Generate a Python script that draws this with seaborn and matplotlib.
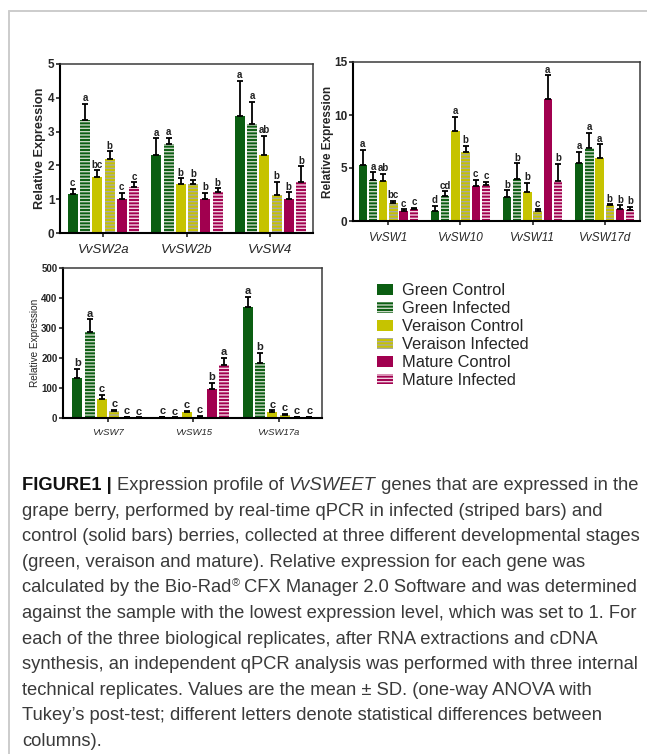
#!/usr/bin/env python3
"""
VvSWEET expression profile - three bar panels, legend and caption
"""
import matplotlib
matplotlib.use("Agg")
import matplotlib.pyplot as plt
from matplotlib.patches import Patch
from matplotlib.lines import Line2D
from matplotlib.container import BarContainer
import seaborn as sns
import pandas as pd

conditions = ["Green Control", "Green Infected", "Veraison Control",
              "Veraison Infected", "Mature Control", "Mature Infected"]
base_colors = ["#0b5e12", "#0b5e12", "#c6c300", "#c6c300", "#a1004f", "#a1004f"]
stripe_colors = [None, "#c9d6c4", None, "#a9a9a0", None, "#f2d3e2"]

# panel A
genes_a = ["VvSW2a", "VvSW2b", "VvSW4"]
mean_a = [[1.15, 3.33, 1.65, 2.20, 1.00, 1.35],
          [2.30, 2.62, 1.45, 1.45, 1.00, 1.20],
          [3.45, 3.22, 2.32, 1.12, 1.00, 1.52]]
sd_a = [[0.15, 0.50, 0.20, 0.22, 0.18, 0.15],
        [0.50, 0.20, 0.17, 0.13, 0.18, 0.12],
        [1.05, 0.65, 0.56, 0.40, 0.20, 0.45]]
letters_a = [["c", "a", "bc", "b", "c", "c"],
             ["a", "a", "b", "b", "b", "b"],
             ["a", "a", "ab", "b", "b", "b"]]

# panel B
genes_b = ["VvSW1", "VvSW10", "VvSW11", "VvSW17d"]
mean_b = [[5.27, 3.85, 3.76, 1.70, 0.95, 1.10],
          [0.95, 2.37, 8.53, 6.54, 3.32, 3.38],
          [2.27, 4.00, 2.75, 0.95, 11.52, 3.76],
          [5.43, 6.92, 5.97, 1.48, 1.14, 1.00]]
sd_b = [[1.43, 0.73, 0.72, 0.20, 0.15, 0.16],
        [0.47, 0.43, 1.32, 0.56, 0.53, 0.32],
        [0.63, 1.43, 0.85, 0.15, 2.22, 1.61],
        [1.11, 1.42, 1.26, 0.10, 0.34, 0.33]]
letters_b = [["a", "a", "ab", "bc", "c", "c"],
             ["d", "cd", "a", "b", "c", "c"],
             ["b", "b", "b", "c", "a", "b"],
             ["a", "a", "a", "b", "b", "b"]]

# panel C
genes_c = ["VvSW7", "VvSW15", "VvSW17a"]
mean_c = [[134, 286, 62, 24, 3, 1],
          [3, 1, 20, 4, 98, 178],
          [369, 184, 20, 11, 3, 2]]
sd_c = [[29, 43, 16, 4, 2, 1],
        [2, 1, 4, 3, 20, 23],
        [36, 34, 6, 2, 2, 1]]
letters_c = [["b", "a", "c", "c", "c", "c"],
             ["c", "c", "c", "c", "b", "a"],
             ["a", "b", "c", "c", "c", "c"]]

caption_lines = [
    [("FIGURE1 | ", "bold"), ("Expression profile of ", "reg"), ("VvSWEET", "it"),
     (" genes that are expressed in the", "reg")],
    [("grape berry, performed by real-time qPCR in infected (striped bars) and", "reg")],
    [("control (solid bars) berries, collected at three different developmental stages", "reg")],
    [("(green, veraison and mature). Relative expression for each gene was", "reg")],
    [("calculated by the Bio-Rad", "reg"), ("®", "sup"),
     (" CFX Manager 2.0 Software and was determined", "reg")],
    [("against the sample with the lowest expression level, which was set to 1. For", "reg")],
    [("each of the three biological replicates, after RNA extractions and cDNA", "reg")],
    [("synthesis, an independent qPCR analysis was performed with three internal", "reg")],
    [("technical replicates. Values are the mean ± SD. (one-way ANOVA with", "reg")],
    [("Tukey\u2019s post-test; different letters denote statistical differences between", "reg")],
    [("columns).", "reg")],
]

sns.set_style("ticks")
plt.rcParams["font.family"] = ["Liberation Sans", "DejaVu Sans"]
plt.rcParams["hatch.linewidth"] = 1.0

cap_font = "Liberation Sans"
cap_size = 13.2

W, H = 647, 754
fig = plt.figure(figsize=(W / 100, H / 100), dpi=100)


def box(left, top, right, bottom):
    return [left / W, 1 - bottom / H, (right - left) / W, (bottom - top) / H]


def draw_panel(ax, genes, means, sds, letters, ylim, yticks, width, gap,
               tick_fs, label_fs, label_bold, xtick_fs, letter_fs, xpad):
    rows = []
    for g, m, s, l in zip(genes, means, sds, letters):
        for c, mv, sv, lv in zip(conditions, m, s, l):
            rows.append(dict(gene=g, cond=c, mean=mv, sd=sv, letter=lv))
    df = pd.DataFrame(rows)
    sns.barplot(data=df, x="gene", y="mean", hue="cond", order=genes,
                hue_order=conditions, palette=base_colors, saturation=1,
                width=width, gap=gap, errorbar=None, legend=False, ax=ax)
    bar_sets = [c for c in ax.containers if isinstance(c, BarContainer)]
    for k, cont in enumerate(bar_sets):
        sub = df[df["cond"] == conditions[k]].set_index("gene")
        for bar in cont:
            xc = bar.get_x() + bar.get_width() / 2
            row = sub.loc[genes[int(round(xc))]]
            bar.set_linewidth(0)
            if stripe_colors[k]:
                bar.set_edgecolor(stripe_colors[k])
                bar.set_hatch("-----")
            ax.errorbar(xc, row["mean"], yerr=[[0], [row["sd"]]], fmt="none",
                        ecolor="black", elinewidth=1.3, capsize=2.4, capthick=1.3)
            ax.annotate(row["letter"], (xc, row["mean"] + row["sd"]), xytext=(0, 0.5),
                        textcoords="offset points", ha="center", va="bottom",
                        fontsize=letter_fs, fontweight="bold", color="#222222")
    ax.set_ylim(*ylim)
    ax.set_yticks(yticks)
    ax.set_xlabel("")
    ax.set_ylabel("Relative Expression", fontsize=label_fs,
                  fontweight="bold" if label_bold else "normal")
    ax.tick_params(axis="y", labelsize=tick_fs, width=1.2, length=3, pad=1)
    ax.tick_params(axis="x", labelsize=xtick_fs, width=1.2, length=3, pad=xpad)
    for lbl in ax.get_yticklabels():
        lbl.set_fontweight("bold")
    for lbl in ax.get_xticklabels():
        lbl.set_fontstyle("italic")
    for side in ["left", "bottom"]:
        ax.spines[side].set_linewidth(1.5)
        ax.spines[side].set_color("black")
    for side in ["top", "right"]:
        ax.spines[side].set_linewidth(1.1)
        ax.spines[side].set_color("#3a3a3a")


ax1 = fig.add_axes(box(60, 64, 313, 233))
draw_panel(ax1, genes_a, mean_a, sd_a, letters_a, (0, 5), range(0, 6), 0.88, 0.18,
           8.5, 9.2, True, 9.5, 7, 5)
ax1.set_xlim(-0.52, 2.51)
ax1.yaxis.labelpad = 1

ax2 = fig.add_axes(box(353, 62, 640, 221))
draw_panel(ax2, genes_b, mean_b, sd_b, letters_b, (0, 15), [0, 5, 10, 15], 0.85, 0.18,
           8.5, 8.5, True, 8.5, 7, 5)
ax2.set_xlim(-0.49, 3.49)
ax2.yaxis.labelpad = 0

ax3 = fig.add_axes(box(63, 268, 322, 418))
draw_panel(ax3, genes_c, mean_c, sd_c, letters_c, (0, 500), range(0, 501, 100), 0.87, 0.18,
           7, 7.2, False, 6.8, 8, 4)
ax3.set_xlim(-0.53, 2.51)
ax3.yaxis.labelpad = 1

# legend
handles = []
for c, bc, sc in zip(conditions, base_colors, stripe_colors):
    if sc:
        handles.append(Patch(facecolor=bc, edgecolor=sc, hatch="-----", linewidth=0, label=c))
    else:
        handles.append(Patch(facecolor=bc, linewidth=0, label=c))
fig.legend(handles=handles, loc="upper left", bbox_to_anchor=(377 / W, 1 - 283 / H),
           frameon=False, fontsize=11.8, borderpad=0, borderaxespad=0,
           handlelength=0.98, handleheight=0.65, handletextpad=0.55, labelspacing=0.18)

# outer frame (left and top edges)
fig.add_artist(Line2D([9 / W, 9 / W], [0, 1 - 10.5 / H], transform=fig.transFigure,
                      color="#cccccc", linewidth=1.4))
fig.add_artist(Line2D([9 / W, 1], [1 - 10.5 / H, 1 - 10.5 / H], transform=fig.transFigure,
                      color="#cccccc", linewidth=1.4))

# caption, one text run after another
renderer = fig.canvas.get_renderer()
styles = {
    "reg": dict(fontsize=cap_size, color="#3a3a3a"),
    "bold": dict(fontsize=cap_size, fontweight="bold", color="#111111"),
    "it": dict(fontsize=cap_size, fontstyle="italic", color="#3a3a3a"),
    "sup": dict(fontsize=cap_size * 0.6, color="#3a3a3a"),
}


def run_width(txt, kw):
    a = fig.text(0, 0, "|" + txt + "|", family=cap_font, **kw)
    b = fig.text(0, 0, "||", family=cap_font, **kw)
    w = a.get_window_extent(renderer).width - b.get_window_extent(renderer).width
    a.remove()
    b.remove()
    return w


for i, line in enumerate(caption_lines):
    x = 22
    y = 490 + 25.6 * i
    for txt, st in line:
        kw = styles[st]
        dy = -6 if st == "sup" else 0
        fig.text(x / W, 1 - (y + dy) / H, txt, ha="left", va="baseline",
                 family=cap_font, **kw)
        x += run_width(txt, kw)

fig.savefig("out.png", dpi=100)
